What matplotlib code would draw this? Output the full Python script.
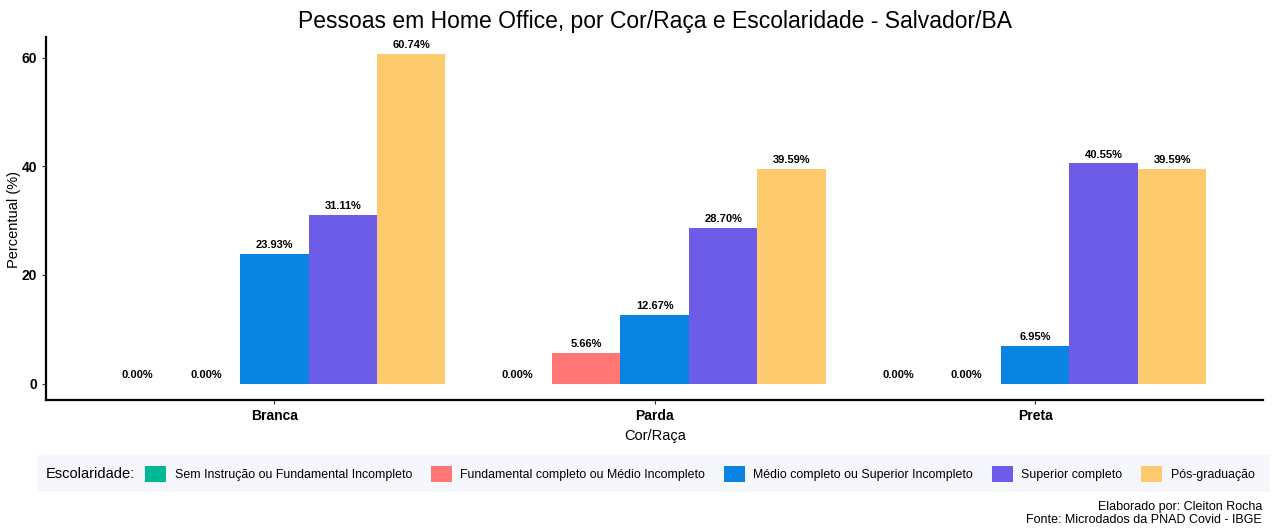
import numpy as np
import matplotlib.pyplot as plt
from matplotlib.patches import Rectangle, Patch

plt.rcParams['font.family'] = ['Liberation Sans', 'DejaVu Sans']

# dados
racas = ["Branca", "Parda", "Preta"]
escolaridade = ["Sem Instrução ou Fundamental Incompleto",
                "Fundamental completo ou Médio Incompleto",
                "Médio completo ou Superior Incompleto",
                "Superior completo",
                "Pós-graduação"]
sem_instrucao = [0.00, 0.00, 0.00]
fundamental = [0.00, 5.66, 0.00]
medio = [23.93, 12.67, 6.95]
superior = [31.11, 28.70, 40.55]
pos_grad = [60.74, 39.59, 39.59]
cores = ["#00B894", "#FF7675", "#0984E3", "#6C5CE7", "#FDCB6E"]

series = [sem_instrucao, fundamental, medio, superior, pos_grad]

fig = plt.figure(figsize=(12.72, 5.32), dpi=100)
ax = fig.add_axes([0.0362, 0.248, 0.957, 0.682])

x = np.arange(1, len(racas) + 1)
w = 0.18
for i, (vals, cor) in enumerate(zip(series, cores)):
    pos = x + (i - 2) * w
    ax.bar(pos, vals, width=w, color=cor, label=escolaridade[i])
    for p, v in zip(pos, vals):
        ax.annotate(f"{v:.2f}%", (p, v), xytext=(0, 2.5), textcoords="offset points",
                    ha="center", va="bottom", fontsize=8, fontweight="bold")

ax.set_xlim(0.4, 3.6)
ax.set_ylim(-3.04, 63.78)
ax.set_xticks(x)
ax.set_xticklabels(racas, fontsize=10, fontweight="bold")
ax.set_yticks([0, 20, 40, 60])
ax.set_yticklabels(["0", "20", "40", "60"], fontsize=10, fontweight="bold")
ax.tick_params(length=3, width=0.8, color="#333333")
for s in ["top", "right"]:
    ax.spines[s].set_visible(False)
for s in ["left", "bottom"]:
    ax.spines[s].set_linewidth(1.6)
ax.set_xlabel("Cor/Raça", fontsize=10.5, labelpad=4)
fig.text(14 / 1272, 1 - 219 / 532, "Percentual (%)", fontsize=10.5, rotation=90,
         ha="center", va="center")
ax.set_title("Pessoas em Home Office, por Cor/Raça e Escolaridade - Salvador/BA",
             fontsize=16.5, pad=7)

# legenda
fig.patches.append(Rectangle((37 / 1272, 1 - 492 / 532), 1233 / 1272, 37 / 532,
                             transform=fig.transFigure, facecolor="#F6F7FC",
                             edgecolor="none", zorder=0))
fig.text(46 / 1272, 1 - 474 / 532, "Escolaridade:", fontsize=10.5, va="center")
handles = [Patch(facecolor=c) for c in cores]
fig.legend(handles, escolaridade, loc="center left", ncol=5, frameon=False,
           bbox_to_anchor=(145 / 1272, 1 - 474 / 532), fontsize=8.9,
           handlelength=1.7, handleheight=1.7, handletextpad=0.7,
           columnspacing=1.5, borderaxespad=0, borderpad=0)

fig.text(1262 / 1272, 1 - 507 / 532, "Elaborado por: Cleiton Rocha", fontsize=9,
         ha="right", va="center")
fig.text(1262 / 1272, 1 - 520 / 532, "Fonte: Microdados da PNAD Covid - IBGE", fontsize=9,
         ha="right", va="center")

fig.savefig("out.png", dpi=100)
